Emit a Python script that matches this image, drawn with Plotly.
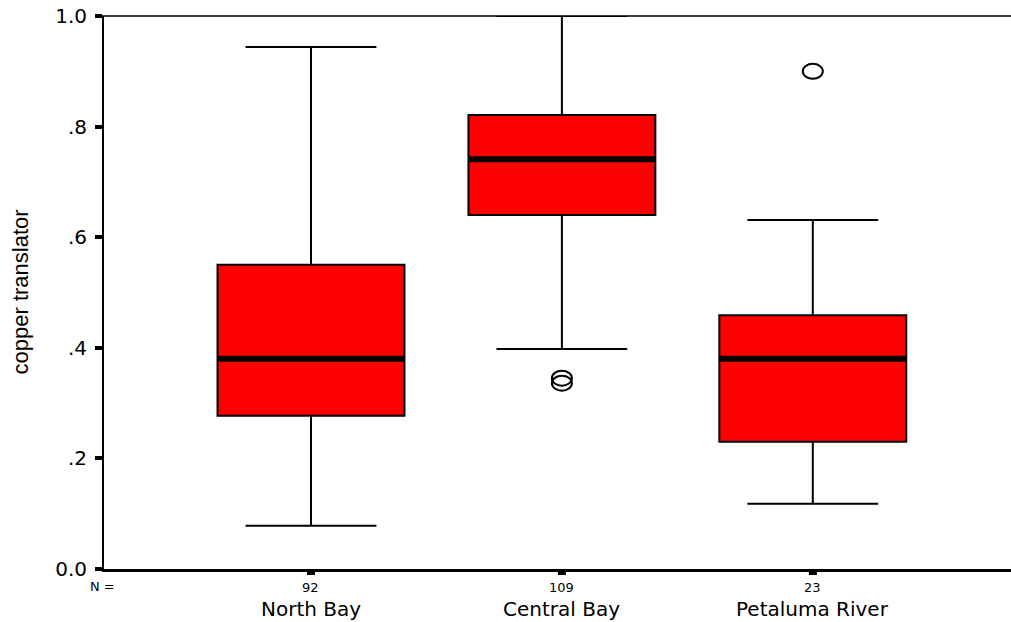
import plotly.graph_objects as go

# Group labels, sample sizes and five-number summaries
categories = ["North Bay", "Central Bay", "Petaluma River"]
n_counts = ["92", "109", "23"]
lower_whisker = [0.078, 0.398, 0.118]
q1_vals = [0.277, 0.640, 0.230]
median_vals = [0.380, 0.741, 0.380]
q3_vals = [0.550, 0.821, 0.459]
upper_whisker = [0.944, 1.000, 0.631]

# Outlying observations (group index, value)
outlier_group = [1, 1, 2]
outlier_vals = [0.345, 0.336, 0.900]

y_tickvals = [0.0, 0.2, 0.4, 0.6, 0.8, 1.0]
y_ticktext = ["0.0", ".2", ".4", ".6", ".8", "1.0"]
y_title = "copper translator"

positions = list(range(len(categories)))
box_w = 0.745
WIDE = "DejaVu Sans, Verdana, sans-serif"
ARIAL = "Liberation Sans, Arial, sans-serif"

fig = go.Figure()

fig.add_trace(go.Box(
    x=positions,
    q1=q1_vals, median=median_vals, q3=q3_vals,
    lowerfence=lower_whisker, upperfence=upper_whisker,
    width=box_w, whiskerwidth=0.7,
    fillcolor="#ff0000",
    line=dict(color="black", width=2),
    boxpoints=False, showlegend=False, hoverinfo="skip",
))

# Heavy median bars
mx, my = [], []
for p, m in zip(positions, median_vals):
    mx += [p - box_w / 2, p + box_w / 2, None]
    my += [m, m, None]
fig.add_trace(go.Scatter(
    x=mx, y=my, mode="lines",
    line=dict(color="black", width=6),
    showlegend=False, hoverinfo="skip",
))

# Outliers drawn as open ellipses anchored at their data values
for g, v in zip(outlier_group, outlier_vals):
    fig.add_shape(type="circle", xref="x", yref="y",
                  xsizemode="pixel", ysizemode="pixel",
                  xanchor=g, yanchor=v,
                  x0=-10, x1=10, y0=-7.5, y1=7.5,
                  line=dict(color="black", width=2))

# Top frame line
fig.add_shape(type="line", xref="paper", yref="paper",
              x0=-0.005, x1=1, y0=1, y1=1,
              line=dict(color="black", width=1.5))

annotations = [
    dict(x=-0.002, y=0, xref="paper", yref="paper", text="N =",
         showarrow=False, yshift=-17, xanchor="center", yanchor="middle",
         font=dict(family=WIDE, size=13, color="black")),
    dict(x=0, y=0.5, xref="paper", yref="paper", text=y_title,
         showarrow=False, textangle=-90, xshift=-84,
         xanchor="center", yanchor="middle",
         font=dict(family=ARIAL, size=22, color="black")),
]
for p, cat, n in zip(positions, categories, n_counts):
    annotations.append(dict(
        x=p, y=0, xref="x", yref="paper", text=n, showarrow=False,
        yshift=-18, yanchor="middle",
        font=dict(family=WIDE, size=13, color="black")))
    annotations.append(dict(
        x=p, y=0, xref="x", yref="paper", text=cat, showarrow=False,
        yshift=-40, yanchor="middle",
        font=dict(family=WIDE, size=20, color="black")))

fig.update_layout(
    width=1011, height=622,
    margin=dict(l=104, r=0, t=16, b=53),
    paper_bgcolor="white", plot_bgcolor="white",
    font=dict(family=WIDE, color="black"),
    annotations=annotations,
    xaxis=dict(
        range=[-0.825, 2.79], tickvals=positions, ticktext=["", "", ""],
        showgrid=False, zeroline=False,
        showline=True, linecolor="black", linewidth=2.5,
        ticks="outside", ticklen=3, tickwidth=8, tickcolor="black",
    ),
    yaxis=dict(
        range=[0, 1], tickvals=y_tickvals, ticktext=y_ticktext,
        showgrid=False, zeroline=False,
        showline=True, linecolor="black", linewidth=2,
        ticks="outside", ticklen=7, tickwidth=4, tickcolor="black",
        ticklabelstandoff=4,
        tickfont=dict(family=WIDE, size=20, color="black"),
    ),
)

fig.write_html("out.html")
